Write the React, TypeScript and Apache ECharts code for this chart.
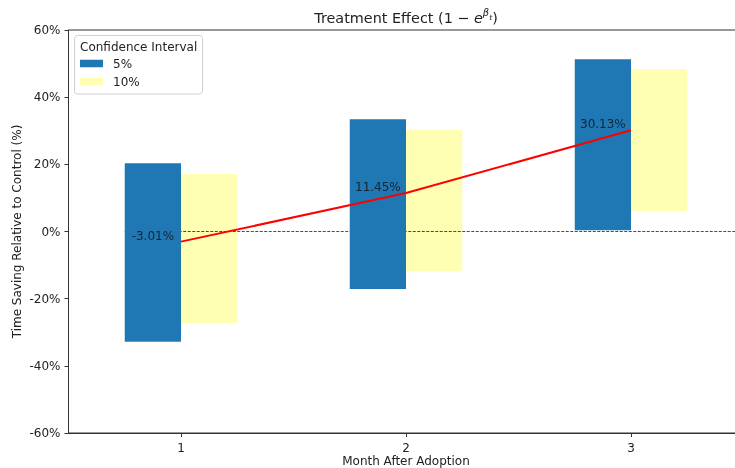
import React, { useEffect, useRef } from 'react';
import * as echarts from 'echarts';

const months = [1, 2, 3];
const ci5Low = [-32.8, -17.1, 0.4];
const ci5High = [20.3, 33.4, 51.3];
const ci10Low = [-27.3, -11.8, 6.1];
const ci10High = [17.1, 30.2, 48.4];
const effect = [-3.01, 11.45, 30.13];
const xTicks = [1, 2, 3];
const seriesNames = ['5%', '10%'];

const FONT = 'DejaVu Sans';
const BAR_W = 0.25;

function makeRender(offset: number) {
  return (params: any, api: any) => {
    const x = api.value(0);
    const lo = api.value(1);
    const hi = api.value(2);
    const p1 = api.coord([x + offset, hi]);
    const p2 = api.coord([x + offset + BAR_W, lo]);
    return {
      type: 'rect',
      shape: { x: p1[0], y: p1[1], width: p2[0] - p1[0], height: p2[1] - p1[1] },
      style: api.style(),
    };
  };
}

export default function App() {
  const ref = useRef<HTMLDivElement>(null);
  useEffect(() => {
    if (!ref.current) return;
    document.body.style.margin = '0';
    document.body.style.overflow = 'hidden';
    const chart = echarts.init(ref.current, null, { renderer: 'svg' });
    const option: any = {
      animation: false,
      textStyle: { fontFamily: FONT },
      grid: {
        left: 68.5, top: 30, width: 675, height: 403,
        outerBoundsMode: 'none', containLabel: false,
        show: true, borderColor: '#333', borderWidth: 1, backgroundColor: 'transparent',
      },
      legend: {
        orient: 'vertical',
        left: 80,
        top: 57.5,
        padding: 0,
        itemWidth: 23,
        itemHeight: 7.5,
        itemGap: 6,
        z: 100,
        data: seriesNames.map((n) => ({ name: n, icon: 'rect' })),
        textStyle: { fontFamily: FONT, fontSize: 12, color: '#222', lineHeight: 12, padding: [0, 0, 0, 5] },
        selectedMode: false,
      },
      xAxis: {
        type: 'value',
        min: 0.5,
        max: 3.5,
        name: 'Month After Adoption',
        nameLocation: 'middle',
        nameGap: 22,
        nameMoveOverlap: false,
        nameTextStyle: { fontFamily: FONT, fontSize: 12, lineHeight: 12, color: '#222', verticalAlign: 'top' },
        splitLine: { show: false },
        axisLine: { show: true, onZero: false, lineStyle: { color: '#333' } },
        axisTick: { show: true, length: 4, customValues: xTicks, lineStyle: { color: '#333' } },
        axisLabel: { customValues: xTicks, margin: 9, fontFamily: FONT, fontSize: 12, color: '#222' },
      },
      yAxis: {
        type: 'value',
        min: -60,
        max: 60,
        interval: 20,
        name: 'Time Saving Relative to Control (%)',
        nameLocation: 'middle',
        nameGap: 46,
        nameMoveOverlap: false,
        nameTextStyle: { fontFamily: FONT, fontSize: 12, color: '#222' },
        splitLine: { show: false },
        axisLine: { show: true, lineStyle: { color: '#333' } },
        axisTick: { show: true, length: 4, lineStyle: { color: '#333' } },
        axisLabel: { formatter: '{value}%', margin: 8, fontFamily: FONT, fontSize: 12, color: '#222' },
      },
      graphic: [
        {
          type: 'text',
          x: 406,
          y: 17.5,
          style: {
            text: '{a|Treatment Effect (1 − }{e|e}{b|β}{t|t}{a|)}',
            align: 'center',
            verticalAlign: 'middle',
            fill: '#222',
            rich: {
              a: { fontFamily: FONT, fontSize: 14.4, lineHeight: 20, fill: '#222', verticalAlign: 'middle' },
              e: { fontFamily: FONT, fontSize: 14.4, fontStyle: 'italic', lineHeight: 20, fill: '#222', verticalAlign: 'middle' },
              b: { fontFamily: FONT, fontSize: 10, fontStyle: 'italic', fill: '#222', verticalAlign: 'top', lineHeight: 14 },
              t: { fontFamily: FONT, fontSize: 7.5, fontStyle: 'italic', fill: '#222', verticalAlign: 'middle', lineHeight: 8 },
            },
          },
          z: 100,
        },
        {
          type: 'rect',
          shape: { x: 74.5, y: 35.5, width: 128, height: 58.5, r: 3 },
          style: { fill: 'rgba(255,255,255,0.8)', stroke: '#d0d0d0', lineWidth: 1 },
          z: 50,
        },
        {
          type: 'text',
          x: 80,
          y: 46.5,
          style: { text: 'Confidence Interval', fontFamily: FONT, fontSize: 12, fill: '#222', verticalAlign: 'middle' },
          z: 95,
        },
      ],
      series: [
        {
          name: '10%',
          type: 'custom',
          renderItem: makeRender(0),
          itemStyle: { color: '#ffffb3' },
          encode: { x: 0, y: [1, 2] },
          data: months.map((m, i) => [m, ci10Low[i], ci10High[i]]),
          z: 2,
        },
        {
          name: 'zero',
          type: 'line',
          symbol: 'none',
          data: [[0.75, 0], [3.5, 0]],
          lineStyle: { color: '#000', width: 0.7, type: [3, 1.5] },
          z: 3,
          silent: true,
        },
        {
          name: '5%',
          type: 'custom',
          renderItem: makeRender(-BAR_W),
          itemStyle: { color: '#1f77b4' },
          encode: { x: 0, y: [1, 2] },
          data: months.map((m, i) => [m, ci5Low[i], ci5High[i]]),
          z: 4,
        },
        {
          name: 'effect',
          type: 'line',
          symbol: 'none',
          data: months.map((m, i) => [m, effect[i]]),
          lineStyle: { color: '#ff0000', width: 2 },
          z: 5,
        },
        {
          name: 'labels',
          type: 'scatter',
          symbolSize: 0.1,
          itemStyle: { color: 'transparent' },
          data: months.map((m, i) => [m - 0.125, effect[i]]),
          label: {
            show: true,
            position: 'top',
            distance: 0,
            formatter: (p: any) => p.value[1].toFixed(2) + '%',
            fontFamily: FONT,
            fontSize: 12,
            color: '#111',
          },
          z: 6,
        },
      ],
    };
    chart.setOption(option);
    return () => chart.dispose();
  }, []);
  return <div ref={ref} style={{ width: 735, height: 468, position: 'fixed', left: 0, top: 0 }} />;
}
